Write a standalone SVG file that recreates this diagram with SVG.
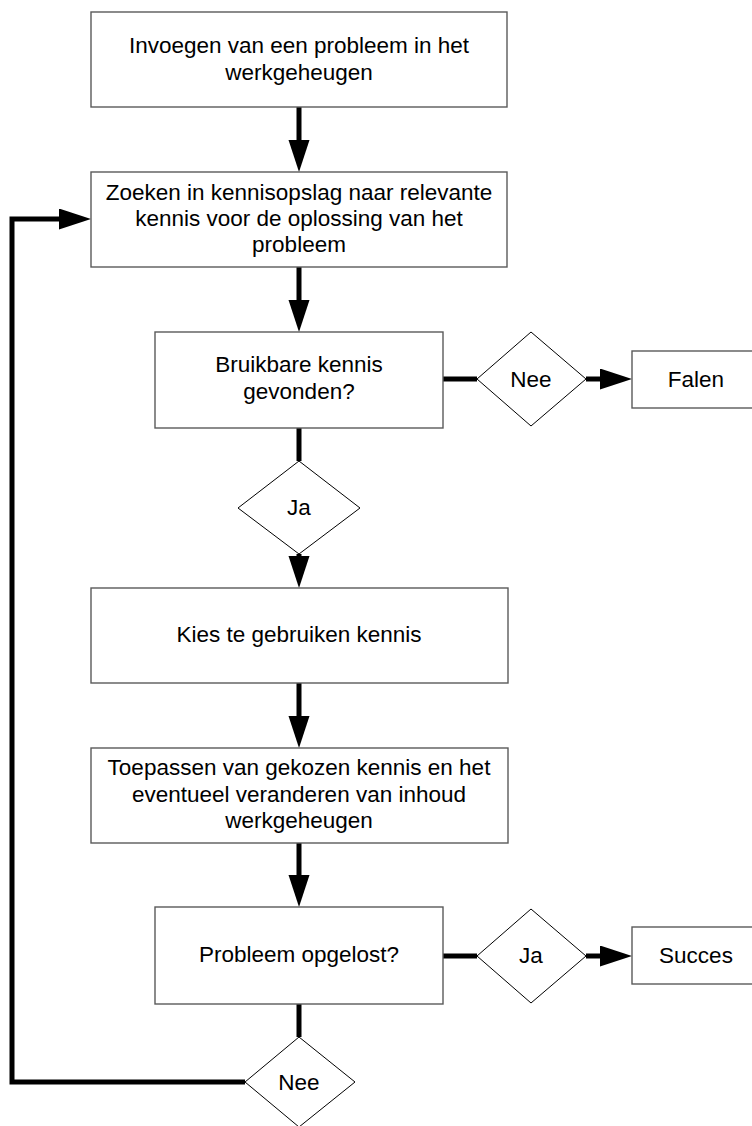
<svg xmlns="http://www.w3.org/2000/svg" width="752" height="1126" viewBox="0 0 752 1126">
  <style>
    .box { fill: #ffffff; stroke: #5a5a5a; stroke-width: 1.4; }
    .dia { fill: #ffffff; stroke: #000000; stroke-width: 1; }
    .lbl { font-family: "Liberation Sans", Arial, sans-serif; font-size: 22.5px; fill: #000000; text-anchor: middle; }
    .wire { fill: none; stroke: #000000; stroke-width: 5; stroke-linejoin: miter; }
  </style>
  <defs>
    <marker id="head" markerUnits="userSpaceOnUse" markerWidth="33" markerHeight="22" refX="0" refY="10.5" orient="auto">
      <path d="M0,0 L32,10.5 L0,21 Z" fill="#000000"/>
    </marker>
  </defs>
  <rect width="752" height="1126" fill="#ffffff"/>

  <!-- connectors -->
  <g id="connectors">
    <path class="wire" d="M299,107 V140" marker-end="url(#head)"/>
    <path class="wire" d="M299,267 V300" marker-end="url(#head)"/>
    <path class="wire" d="M443,379 H477"/>
    <path class="wire" d="M586,379 H600" marker-end="url(#head)"/>
    <path class="wire" d="M299,428 V461"/>
    <path class="wire" d="M299,554 V556" marker-end="url(#head)"/>
    <path class="wire" d="M299,683 V716" marker-end="url(#head)"/>
    <path class="wire" d="M299,843 V875" marker-end="url(#head)"/>
    <path class="wire" d="M443,956 H477"/>
    <path class="wire" d="M586,956 H600" marker-end="url(#head)"/>
    <path class="wire" d="M299,1004 V1037"/>
    <path class="wire" d="M245,1082 H12 V219 H59" marker-end="url(#head)"/>
  </g>

  <g id="n-invoegen">
    <rect class="box" x="91" y="12" width="416" height="95"/>
    <text class="lbl" x="299" y="53">Invoegen van een probleem in het</text>
    <text class="lbl" x="299" y="80">werkgeheugen</text>
  </g>

  <g id="n-zoeken">
    <rect class="box" x="91" y="172" width="416" height="95"/>
    <text class="lbl" x="299" y="200">Zoeken in kennisopslag naar relevante</text>
    <text class="lbl" x="299" y="226">kennis voor de oplossing van het</text>
    <text class="lbl" x="299" y="252">probleem</text>
  </g>

  <g id="n-bruikbaar">
    <rect class="box" x="155" y="332" width="288" height="96"/>
    <text class="lbl" x="299" y="372">Bruikbare kennis</text>
    <text class="lbl" x="299" y="399">gevonden?</text>
  </g>

  <g id="d-nee-1">
    <polygon class="dia" points="531,332 586,379 531,426 477,379"/>
    <text class="lbl" x="531" y="387">Nee</text>
  </g>

  <g id="n-falen">
    <rect class="box" x="632" y="351" width="130" height="57"/>
    <text class="lbl" x="696" y="387">Falen</text>
  </g>

  <g id="d-ja-1">
    <polygon class="dia" points="299,461 360,508 299,554 238,508"/>
    <text class="lbl" x="299" y="515">Ja</text>
  </g>

  <g id="n-kies">
    <rect class="box" x="91" y="588" width="417" height="95"/>
    <text class="lbl" x="299" y="642">Kies te gebruiken kennis</text>
  </g>

  <g id="n-toepassen">
    <rect class="box" x="91" y="748" width="417" height="95"/>
    <text class="lbl" x="299" y="775">Toepassen van gekozen kennis en het</text>
    <text class="lbl" x="299" y="802">eventueel veranderen van inhoud</text>
    <text class="lbl" x="299" y="828">werkgeheugen</text>
  </g>

  <g id="n-opgelost">
    <rect class="box" x="155" y="907" width="288" height="97"/>
    <text class="lbl" x="299" y="962">Probleem opgelost?</text>
  </g>

  <g id="d-ja-2">
    <polygon class="dia" points="531,909 586,956 531,1003 477,956"/>
    <text class="lbl" x="531" y="963">Ja</text>
  </g>

  <g id="n-succes">
    <rect class="box" x="632" y="927" width="130" height="57"/>
    <text class="lbl" x="696" y="963">Succes</text>
  </g>

  <g id="d-nee-2">
    <polygon class="dia" points="299,1037 355,1082 299,1127 245,1082"/>
    <text class="lbl" x="299" y="1090">Nee</text>
  </g>
</svg>
